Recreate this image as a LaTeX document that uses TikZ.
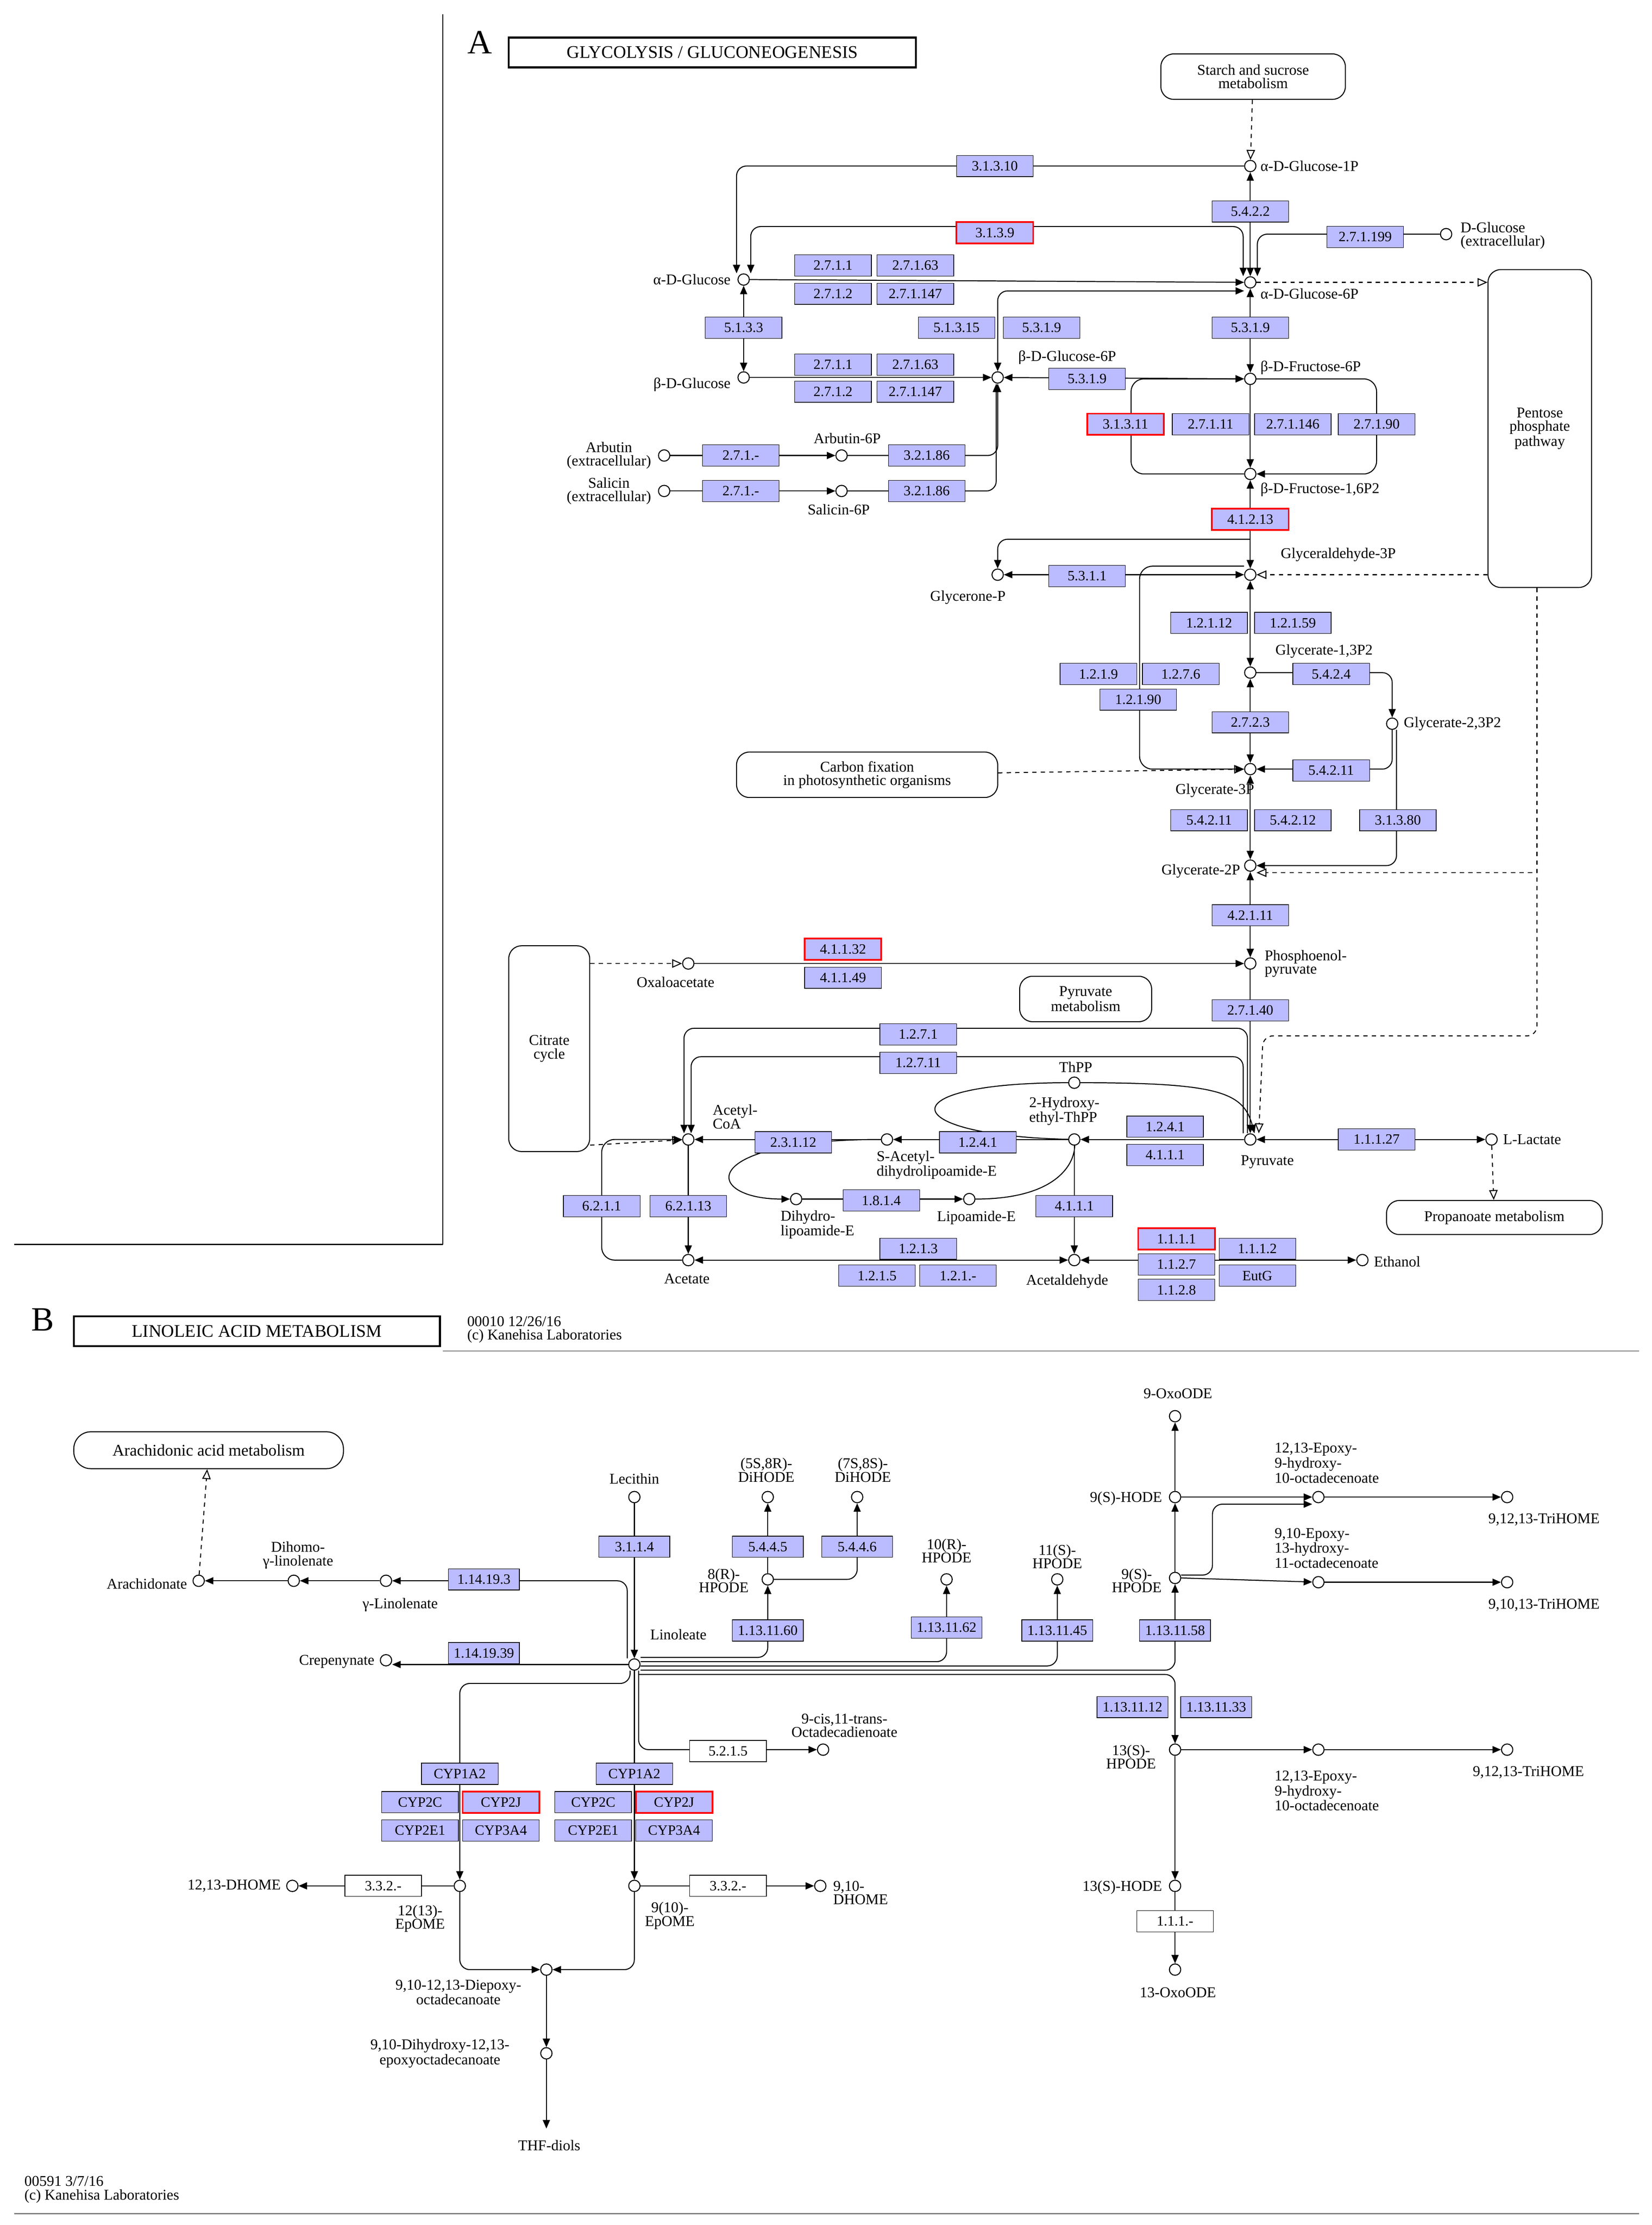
\documentclass[tikz,border=0pt]{standalone}
\usepackage{fontspec}
\setmainfont{Liberation Serif}
\usetikzlibrary{arrows.meta,backgrounds}
\definecolor{ecfill}{RGB}{187,187,255}
\tikzset{x=1pt,y=-1pt,
 ec/.style={draw,fill=ecfill,font=\fontsize{10}{10}\selectfont,minimum width=54pt,minimum height=15pt,inner sep=1pt},
 ecr/.style={ec,draw=red,line width=1.2pt},
 ecw/.style={ec,fill=white},
 cpd/.style={circle,draw,fill=white,inner sep=0pt,minimum size=8pt,line width=0.7pt},
 lb/.style={font=\fontsize{10.5}{9.5}\selectfont,align=center,inner sep=1pt},
 lbl/.style={lb,align=left},
 rbox/.style={draw,rounded corners=9pt,align=center,font=\fontsize{10.5}{9.5}\selectfont,line width=0.7pt},
 arr/.style={-{Triangle[length=6pt,width=5pt]},line width=0.7pt},
 both/.style={{Triangle[length=6pt,width=5pt]}-{Triangle[length=6pt,width=5pt]},line width=0.7pt},
 oarr/.style={-{Triangle[open,length=7pt,width=6pt]},dashed,line width=0.7pt},
 ln/.style={line width=0.7pt},
 rc/.style={rounded corners=7pt},
 title/.style={draw,line width=1.3pt,font=\fontsize{12.5}{12}\selectfont,minimum height=21pt,inner xsep=6pt}
}
\begin{document}
\begin{tikzpicture}
\useasboundingbox (0,0) rectangle (1164,1568);
\begin{scope}[on background layer]
\fill[white] (0,0) rectangle (1164,1568);
\end{scope}
% frame
\draw[ln] (312,10) -- (312,877);
\draw[ln] (10,877) -- (312,877);
\draw[ln,gray] (312,952) -- (1155,952);
\draw[ln,gray] (10,1560) -- (1155,1560);
\node[font=\fontsize{24}{24}\selectfont] (lA) at (338,30) {A};
\node[title,minimum width=287pt] (tA) at (502,37) {GLYCOLYSIS / GLUCONEOGENESIS};
\node[font=\fontsize{24}{24}\selectfont] (lB) at (30,930) {B};
\node[title,minimum width=258pt] (tB) at (181,938) {LINOLEIC ACID METABOLISM};
\node[lbl,anchor=west] (fA) at (328,937) {00010 12/26/16\\(c) Kanehisa Laboratories};
\node[lbl,anchor=west] (fB) at (16,1543) {00591 3/7/16\\(c) Kanehisa Laboratories};

% ===== A compounds
\node[cpd] (aG1P) at (881,117) {};
\node[cpd] (aG6P) at (881,199) {};
\node[cpd] (aG) at (524,197) {};
\node[cpd] (bG) at (524,266) {};
\node[cpd] (bG6P) at (703,266) {};
\node[cpd] (F6P) at (881,267) {};
\node[cpd] (FBP) at (881,334) {};
\node[cpd] (GAP) at (881,405) {};
\node[cpd] (GlyP) at (703,405) {};
\node[cpd] (G13P) at (881,474) {};
\node[cpd] (G23P) at (981,510) {};
\node[cpd] (G3P) at (881,542) {};
\node[cpd] (G2P) at (881,610) {};
\node[cpd] (PEP) at (881,679) {};
\node[cpd] (Pyr) at (881,803) {};
\node[cpd] (Lac) at (1051,803) {};
\node[cpd] (OAA) at (485,679) {};
\node[cpd] (AcCoA) at (485,803) {};
\node[cpd] (Acet) at (485,888) {};
\node[cpd] (Acald) at (757,888) {};
\node[cpd] (EtOH) at (960,888) {};
\node[cpd] (SAc) at (625,803) {};
\node[cpd] (HET) at (757,803) {};
\node[cpd] (ThPP) at (757,763) {};
\node[cpd] (DHL) at (561,845) {};
\node[cpd] (LipE) at (683,845) {};
\node[cpd] (Arb) at (468,321) {};
\node[cpd] (Arb6) at (593,321) {};
\node[cpd] (Sal) at (468,346) {};
\node[cpd] (Sal6) at (593,346) {};
\node[cpd] (DGx) at (1019,165) {};
% labels
\node[lbl,anchor=west] (LaG1P) at (887,117) {α-D-Glucose-1P};
\node[lbl,anchor=west] (LaG6P) at (887,207) {α-D-Glucose-6P};
\node[lb,anchor=east] (LaG) at (516,197) {α-D-Glucose};
\node[lb,anchor=east] (LbG) at (516,271) {β-D-Glucose};
\node[lb] (LbG6P) at (752,252) {β-D-Glucose-6P};
\node[lbl,anchor=west] (LF6P) at (887,259) {β-D-Fructose-6P};
\node[lbl,anchor=west] (LFBP) at (887,345) {β-D-Fructose-1,6P2};
\node[lb] (LGAP) at (943,391) {Glyceraldehyde-3P};
\node[lb] (LGlyP) at (682,421) {Glycerone-P};
\node[lb] (LG13P) at (933,459) {Glycerate-1,3P2};
\node[lbl,anchor=west] (LG23P) at (988,510) {Glycerate-2,3P2};
\node[lb] (LG3P) at (856,557) {Glycerate-3P};
\node[lb,anchor=east] (LG2P) at (875,614) {Glycerate-2P};
\node[lbl,anchor=west] (LPEP) at (890,679) {Phosphoenol-\\pyruvate};
\node[lb] (LPyr) at (893,819) {Pyruvate};
\node[lbl,anchor=west] (LLac) at (1058,803) {L-Lactate};
\node[lb] (LOAA) at (476,692) {Oxaloacetate};
\node[lbl] (LAc) at (518,787) {Acetyl-\\CoA};
\node[lb] (LAcet) at (484,901) {Acetate};
\node[lb] (LAcald) at (752,903) {Acetaldehyde};
\node[lbl,anchor=west] (LEt) at (967,889) {Ethanol};
\node[lbl] (LSAc) at (660,821) {S-Acetyl-\\dihydrolipoamide-E};
\node[lbl] (LHET) at (750,783) {2-Hydroxy-\\ethyl-ThPP};
\node[lb] (LThPP) at (758,752) {ThPP};
\node[lbl] (LDHL) at (576,863) {Dihydro-\\lipoamide-E};
\node[lb] (LLip) at (688,858) {Lipoamide-E};
\node[lb,anchor=east] (LArb) at (460,321) {Arbutin\\(extracellular)};
\node[lb] (LArb6) at (597,309) {Arbutin-6P};
\node[lb,anchor=east] (LSal) at (460,346) {Salicin\\(extracellular)};
\node[lb] (LSal6) at (591,359) {Salicin-6P};
\node[lbl,anchor=west] (LDGx) at (1028,166) {D-Glucose\\(extracellular)};
% boxes
\node[rbox,minimum width=130pt,minimum height=32pt] (starch) at (883,54) {Starch and sucrose\\metabolism};
\node[rbox,minimum width=73pt,minimum height=224pt] (pent) at (1085,302) {Pentose\\phosphate\\pathway};
\node[rbox,minimum width=184pt,minimum height=32pt] (carb) at (611,546) {Carbon fixation\\in photosynthetic organisms};
\node[rbox,minimum width=93pt,minimum height=32pt] (pyrm) at (765,704) {Pyruvate\\metabolism};
\node[rbox,minimum width=57pt,minimum height=145pt] (cit) at (387,739) {Citrate\\cycle};
\node[rbox,minimum width=152pt,minimum height=24pt] (prop) at (1053,858) {Propanoate metabolism};

\begin{scope}[on background layer]
\draw[oarr] (starch) -- (aG1P);
\draw[both] (aG1P) -- (aG6P);
\draw[arr,rc] (aG1P) -| ([xshift=-5pt]aG.north);
\draw[both,rc] ([xshift=-5pt]aG6P.north) -- ++(0,-35) -| ([xshift=5pt]aG.north);
\draw[{Triangle[length=6pt,width=5pt]}-,ln,rc] ([xshift=5pt]aG6P.north) |- (DGx);
\draw[arr] (aG) -- (aG6P);
\draw[both] (aG) -- (bG);
\draw[arr] (bG) -- (bG6P);
\draw[both,rc] (bG6P) |- ([yshift=-6pt]aG6P.west);
\draw[both] (bG6P) -- (F6P);
\draw[both] (aG6P) -- (F6P);
\draw[oarr] (aG6P) -- (aG6P -| pent.west);
\draw[arr] (F6P) -- (FBP);
\draw[arr,rounded corners=9pt] (FBP.west) -| (797,300) |- (F6P.west);
\draw[arr,rounded corners=9pt] (F6P.east) -| (970,300) |- (FBP.east);
\draw[both] (FBP) -- (GAP);
\coordinate (c380) at (881,380);
\draw[arr,rc] (c380) -| (GlyP.north);
\draw[both] (GlyP) -- (GAP);
\draw[oarr] (GAP -| pent.west) -- (GAP);
\draw[both] (GAP) -- (G13P);
\draw[arr,rounded corners=9pt] ([yshift=6pt]GAP.west) -| (803,480) |- (G3P.west);
\draw[both] (G13P) -- (G3P);
\draw[arr,rc] (G13P.east) -| (G23P.north);
\draw[arr,rc] (G23P.south) |- (G3P.east);
\draw[arr,rc] ([xshift=3pt]G23P.south) |- (G2P.east);
\draw[oarr] (carb) -- (G3P);
\draw[both] (G3P) -- (G2P);
\draw[both] (G2P) -- (PEP);
\draw[arr] (PEP) -- (Pyr);
\draw[oarr] ([xshift=-2pt]pent.south) |- ([yshift=-5pt]G2P.east);
\draw[oarr,rc] ([xshift=-2pt]pent.south) |- (890,730) -- ([xshift=6pt]Pyr.north);
\draw[arr] (OAA) -- (PEP);
\draw[oarr] (OAA -| cit.east) -- (OAA);
\draw[arr,rc] ([xshift=-2pt]Pyr.north) -- ++(0,-74) -| ([xshift=-3pt]AcCoA.north);
\draw[arr,rc] ([xshift=-5pt]Pyr.north) -- ++(0,-54) -| ([xshift=2pt]AcCoA.north);
\draw[both] (Pyr) -- (Lac);
\draw[oarr] (Lac) -- (prop);
\draw[arr] (Pyr) -- (HET);
\draw[arr] (HET) -- (SAc);
\draw[arr] (SAc) -- (AcCoA);
\draw[ln] (HET) .. controls (630,800) and (625,763) .. (ThPP);
\draw[arr] (ThPP) .. controls (860,763) and (876,770) .. ([xshift=3pt]Pyr.north);
\draw[arr] (SAc) .. controls (490,803) and (495,845) .. (DHL);
\draw[arr] (DHL) -- (LipE);
\draw[arr] (LipE) .. controls (760,845) and (760,805) .. (HET);
\draw[arr] (HET) -- (Acald);
\draw[arr] (AcCoA) -- (Acet);
\draw[both] (Acet) -- (Acald);
\draw[both] (Acald) -- (EtOH);
\draw[arr,rounded corners=9pt] (Acet.west) -| (424,845) |- (AcCoA.west);
\draw[oarr] ([yshift=-4pt]cit.east |- AcCoA) -- (AcCoA);
\draw[arr] (Arb) -- (Arb6);
\draw[arr] (Sal) -- (Sal6);
\draw[arr,rc] (Arb6) -| (bG6P);
\draw[arr,rc] (Sal6) -| ([xshift=-1pt]bG6P.south);
\end{scope}

% A enzymes
\node[ec] (e1) at (701,117) {3.1.3.10};
\node[ec] (e2) at (881,149) {5.4.2.2};
\node[ecr] (e3) at (701,164) {3.1.3.9};
\node[ec] (e4) at (962,167) {2.7.1.199};
\node[ec] (e5) at (587,187) {2.7.1.1};
\node[ec] (e6) at (645,187) {2.7.1.63};
\node[ec] (e7) at (587,207) {2.7.1.2};
\node[ec] (e8) at (645,207) {2.7.1.147};
\node[ec] (e9) at (524,231) {5.1.3.3};
\node[ec] (e10) at (674,231) {5.1.3.15};
\node[ec] (e11) at (734,231) {5.3.1.9};
\node[ec] (e12) at (881,231) {5.3.1.9};
\node[ec] (e13) at (587,257) {2.7.1.1};
\node[ec] (e14) at (645,257) {2.7.1.63};
\node[ec] (e15) at (587,276) {2.7.1.2};
\node[ec] (e16) at (645,276) {2.7.1.147};
\node[ec] (e17) at (766,267) {5.3.1.9};
\node[ecr] (e18) at (793,299) {3.1.3.11};
\node[ec] (e19) at (853,299) {2.7.1.11};
\node[ec] (e20) at (911,299) {2.7.1.146};
\node[ec] (e21) at (970,299) {2.7.1.90};
\node[ec] (e22) at (522,321) {2.7.1.-};
\node[ec] (e23) at (653,321) {3.2.1.86};
\node[ec] (e24) at (522,346) {2.7.1.-};
\node[ec] (e25) at (653,346) {3.2.1.86};
\node[ecr] (e26) at (881,366) {4.1.2.13};
\node[ec] (e27) at (766,406) {5.3.1.1};
\node[ec] (e28) at (852,439) {1.2.1.12};
\node[ec] (e29) at (911,439) {1.2.1.59};
\node[ec] (e30) at (774,475) {1.2.1.9};
\node[ec] (e31) at (832,475) {1.2.7.6};
\node[ec] (e32) at (802,493) {1.2.1.90};
\node[ec] (e33) at (938,475) {5.4.2.4};
\node[ec] (e34) at (881,509) {2.7.2.3};
\node[ec] (e35) at (938,543) {5.4.2.11};
\node[ec] (e36) at (852,578) {5.4.2.11};
\node[ec] (e37) at (911,578) {5.4.2.12};
\node[ec] (e38) at (985,578) {3.1.3.80};
\node[ec] (e39) at (881,645) {4.2.1.11};
\node[ecr] (e40) at (594,669) {4.1.1.32};
\node[ec] (e41) at (594,689) {4.1.1.49};
\node[ec] (e42) at (881,712) {2.7.1.40};
\node[ec] (e43) at (647,729) {1.2.7.1};
\node[ec] (e44) at (647,749) {1.2.7.11};
\node[ec] (e45) at (821,794) {1.2.4.1};
\node[ec] (e46) at (821,814) {4.1.1.1};
\node[ec] (e47) at (559,805) {2.3.1.12};
\node[ec] (e48) at (689,805) {1.2.4.1};
\node[ec] (e49) at (621,846) {1.8.1.4};
\node[ec] (e50) at (757,850) {4.1.1.1};
\node[ec] (e51) at (424,850) {6.2.1.1};
\node[ec] (e52) at (485,850) {6.2.1.13};
\node[ec] (e53) at (647,880) {1.2.1.3};
\node[ec] (e54) at (618,899) {1.2.1.5};
\node[ec] (e55) at (675,899) {1.2.1.-};
\node[ec] (e56) at (970,803) {1.1.1.27};
\node[ecr] (e57) at (829,873) {1.1.1.1};
\node[ec] (e58) at (886,880) {1.1.1.2};
\node[ec] (e59) at (829,891) {1.1.2.7};
\node[ec] (e60) at (886,899) {EutG};
\node[ec] (e61) at (829,909) {1.1.2.8};

% ===== B compounds
\node[rbox,minimum width=190pt,minimum height=26pt,rounded corners=12pt,font=\fontsize{11.5}{11}\selectfont] (arm) at (147,1022) {Arachidonic acid metabolism};
\node[cpd] (Ara) at (140,1114) {};
\node[cpd] (Dih) at (207,1114) {};
\node[cpd] (gL) at (272,1114) {};
\node[cpd] (Lec) at (447,1055) {};
\node[cpd] (Lin) at (447,1173) {};
\node[cpd] (Crep) at (272,1170) {};
\node[cpd] (c11t) at (580,1233) {};
\node[cpd] (EP12) at (324,1329) {};
\node[cpd] (DH12) at (206,1329) {};
\node[cpd] (EP9) at (447,1329) {};
\node[cpd] (DH9) at (578,1329) {};
\node[cpd] (Diep) at (385,1388) {};
\node[cpd] (Dihy) at (385,1447) {};
\coordinate (THF) at (385,1500);
\node[cpd] (D58) at (541,1055) {};
\node[cpd] (D78) at (604,1055) {};
\node[cpd] (H8R) at (541,1113) {};
\node[cpd] (H10R) at (667,1113) {};
\node[cpd] (H11S) at (745,1113) {};
\node[cpd] (H9S) at (828,1112) {};
\node[cpd] (O9S) at (828,1055) {};
\node[cpd] (Ox9) at (828,998) {};
\node[cpd] (E12a) at (929,1055) {};
\node[cpd] (T1) at (1062,1055) {};
\node[cpd] (E910) at (929,1115) {};
\node[cpd] (T2) at (1062,1115) {};
\node[cpd] (H13S) at (828,1233) {};
\node[cpd] (E12b) at (929,1233) {};
\node[cpd] (T3) at (1062,1233) {};
\node[cpd] (O13S) at (828,1329) {};
\node[cpd] (Ox13) at (828,1388) {};
% B labels
\node[lb,anchor=east] (LAra) at (133,1116) {Arachidonate};
\node[lb] (LDih) at (210,1096) {Dihomo-\\γ-linolenate};
\node[lb] (LgL) at (282,1131) {γ-Linolenate};
\node[lb] (LLec) at (447,1042) {Lecithin};
\node[lb] (LLin) at (478,1152) {Linoleate};
\node[lb,anchor=east] (LCrep) at (265,1171) {Crepenynate};
\node[lb] (Lc11t) at (595,1216) {9-cis,11-trans-\\Octadecadienoate};
\node[lb] (LEP12) at (296,1352) {12(13)-\\EpOME};
\node[lb,anchor=east] (LDH12) at (199,1329) {12,13-DHOME};
\node[lb] (LEP9) at (472,1350) {9(10)-\\EpOME};
\node[lbl,anchor=west] (LDH9) at (586,1334) {9,10-\\DHOME};
\node[lb] (LDiep) at (323,1404) {9,10-12,13-Diepoxy-\\octadecanoate};
\node[lb] (LDihy) at (310,1447) {9,10-Dihydroxy-12,13-\\epoxyoctadecanoate};
\node[lb] (LTHF) at (387,1512) {THF-diols};
\node[lb] (LD58) at (540,1036) {(5S,8R)-\\DiHODE};
\node[lb] (LD78) at (608,1036) {(7S,8S)-\\DiHODE};
\node[lb] (LH8R) at (510,1114) {8(R)-\\HPODE};
\node[lb] (LH10R) at (667,1093) {10(R)-\\HPODE};
\node[lb] (LH11S) at (745,1097) {11(S)-\\HPODE};
\node[lb] (LH9S) at (801,1114) {9(S)-\\HPODE};
\node[lb,anchor=east] (LO9S) at (820,1056) {9(S)-HODE};
\node[lb] (LOx9) at (830,982) {9-OxoODE};
\node[lbl,anchor=west] (LE12a) at (897,1031) {12,13-Epoxy-\\9-hydroxy-\\10-octadecenoate};
\node[lb] (LT1) at (1088,1071) {9,12,13-TriHOME};
\node[lbl,anchor=west] (LE910) at (897,1091) {9,10-Epoxy-\\13-hydroxy-\\11-octadecenoate};
\node[lb] (LT2) at (1088,1131) {9,10,13-TriHOME};
\node[lb] (LH13S) at (797,1238) {13(S)-\\HPODE};
\node[lbl,anchor=west] (LE12b) at (897,1262) {12,13-Epoxy-\\9-hydroxy-\\10-octadecenoate};
\node[lb] (LT3) at (1077,1249) {9,12,13-TriHOME};
\node[lb,anchor=east] (LO13S) at (820,1330) {13(S)-HODE};
\node[lb] (LOx13) at (830,1404) {13-OxoODE};

\begin{scope}[on background layer]
\draw[oarr] (Ara) -- (arm);
\draw[arr] (Dih) -- (Ara);
\draw[arr] (gL) -- (Dih);
\draw[arr,rc] ([xshift=-5pt]Lin.north) |- (gL);
\draw[arr] (Lec) -- (Lin);
\draw[arr] (Lin.west) -- (Lin.west -| Crep.east);
\draw[arr,rc] ([yshift=5pt]Lin.east) -| (H8R.south);
\draw[arr,rc] ([yshift=2pt]Lin.east) -| (H10R.south);
\draw[arr,rc] ([yshift=-1pt]Lin.east) -| (H11S.south);
\draw[arr,rc] ([yshift=-4pt]Lin.east) -| (H9S.south);
\draw[arr,rc] ([yshift=-7pt,xshift=-1pt]Lin.east) -| (H13S.north);
\draw[arr,rc] ([xshift=3pt]Lin.south) |- (c11t);
\draw[arr,rc] ([xshift=-3pt]Lin.south) -- ++(0,9) -| (EP12.north);
\draw[arr] (Lin) -- (EP9);
\draw[arr] (EP12) -- (DH12);
\draw[arr] (EP9) -- (DH9);
\draw[arr,rc] (EP12.south) |- (Diep.west);
\draw[arr,rc] (EP9.south) |- (Diep.east);
\draw[arr] (Diep) -- (Dihy);
\draw[arr] (Dihy) -- (THF);
\draw[arr] (H8R) -- (D58);
\draw[arr,rc] (H8R.east) -| (D78.south);
\draw[arr] (H9S) -- (O9S);
\draw[arr] (O9S) -- (Ox9);
\draw[arr] (O9S) -- (E12a);
\draw[arr] (E12a) -- (T1);
\draw[arr,rc] ([yshift=2pt]H9S.east) -- ++(22,0) |- ([yshift=-5pt]E12a.west);
\draw[arr] (H9S.east) -- (E910);
\draw[arr] (E910) -- (T2);
\draw[arr] (H13S) -- (E12b);
\draw[arr] (E12b) -- (T3);
\draw[arr] (H13S) -- (O13S);
\draw[arr] (O13S) -- (Ox13);
\end{scope}
% B enzymes
\node[ec,minimum width=50pt] (b1) at (447,1090) {3.1.1.4};
\node[ec,minimum width=50pt] (b2) at (341,1113) {1.14.19.3};
\node[ec,minimum width=50pt] (b3) at (341,1165) {1.14.19.39};
\node[ec,minimum width=50pt] (b4) at (541,1090) {5.4.4.5};
\node[ec,minimum width=50pt] (b5) at (604,1090) {5.4.4.6};
\node[ec,minimum width=50pt] (b6) at (541,1149) {1.13.11.60};
\node[ec,minimum width=50pt] (b7) at (667,1147) {1.13.11.62};
\node[ec,minimum width=50pt] (b8) at (745,1149) {1.13.11.45};
\node[ec,minimum width=50pt] (b9) at (828,1149) {1.13.11.58};
\node[ec,minimum width=50pt] (b10) at (798,1203) {1.13.11.12};
\node[ec,minimum width=50pt] (b11) at (857,1203) {1.13.11.33};
\node[ecw] (b12) at (513,1234) {5.2.1.5};
\node[ec] (b13) at (324,1250) {CYP1A2};
\node[ec] (b14) at (296,1270) {CYP2C};
\node[ecr] (b15) at (353,1270) {CYP2J};
\node[ec] (b16) at (296,1290) {CYP2E1};
\node[ec] (b17) at (353,1290) {CYP3A4};
\node[ec] (b18) at (447,1250) {CYP1A2};
\node[ec] (b19) at (418,1270) {CYP2C};
\node[ecr] (b20) at (475,1270) {CYP2J};
\node[ec] (b21) at (418,1290) {CYP2E1};
\node[ec] (b22) at (475,1290) {CYP3A4};
\node[ecw] (b23) at (270,1329) {3.3.2.-};
\node[ecw] (b24) at (513,1329) {3.3.2.-};
\node[ecw] (b25) at (828,1354) {1.1.1.-};
\end{tikzpicture}
\end{document}
